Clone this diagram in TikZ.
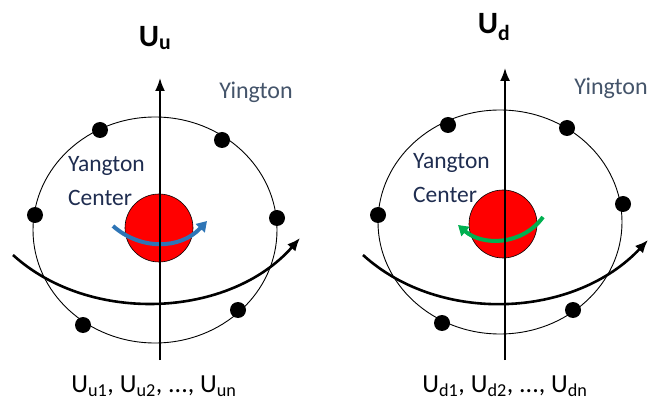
\documentclass[tikz,border=0pt]{standalone}
\usepackage{fontspec}
\setmainfont{Carlito}
\usetikzlibrary{positioning, calc, arrows.meta}
\definecolor{yinggray}{RGB}{68,84,106}
\definecolor{yangnavy}{RGB}{31,45,80}
\definecolor{spinblue}{RGB}{46,117,182}
\definecolor{spingreen}{RGB}{0,176,80}
\begin{document}
\begin{tikzpicture}[x=1pt, y=-1pt,
        orbit/.style={draw=black, line width=0.9pt},
        quark/.style={circle, fill=black, inner sep=0pt, minimum size=16pt},
        center/.style={circle, draw=black, line width=0.6pt, fill=red, inner sep=0pt, minimum size=68pt},
        axis/.style={line width=1.8pt, -{Latex[length=13pt,width=10pt]}},
        path/.style={line width=2.6pt, -{Latex[length=13pt,width=11pt]}},
        spin/.style={line width=4pt, -{Triangle[length=10pt,width=12pt]}},
        label/.style={font=\fontsize{24}{28}\selectfont, inner sep=0pt},
    ]
    \useasboundingbox (0,0) rectangle (653,403);
    % up
    \draw[orbit] (155,230) ellipse (122 and 113);
    \node[quark] (u1) at (100,130) {};
    \node[quark] (u2) at (222,140) {};
    \node[quark] (u3) at (35,215) {};
    \node[quark] (u4) at (277,218) {};
    \node[quark] (u5) at (83,325) {};
    \node[quark] (u6) at (238,310) {};
    \node[center] (UC) at (159,228) {};
    \coordinate (USa) at (113,226);
    \coordinate (USb) at (207,221);
    \draw[spin, spinblue] (USa) .. controls (140,250) and (180,250) .. (USb);
    \coordinate (UAb) at (160,360);
    \coordinate (UAt) at (160,78);
    \draw[axis] (UAb) -- (UAt);
    \coordinate (UPa) at (13,255);
    \coordinate (UPb) at (300,238);
    \draw[path] (UPa) .. controls (90,325) and (230,318) .. (UPb);
    \node[label, font=\fontsize{31}{34}\selectfont\bfseries] (UT) at (155,38) {U\textsubscript{u}};
    \node[label, text=yinggray] (UY) at (256,92) {Yington};
    \node[label, text=yangnavy, align=left, anchor=west, font=\fontsize{23.5}{34}\selectfont] (UY2) at (68,181) {Yangton\\Center};
    \node[label, font=\fontsize{26}{30}\selectfont] (UL) at (154,386) {U\textsubscript{u1}, U\textsubscript{u2}, ..., U\textsubscript{un}};
    % down
    \draw[orbit] (500,222) ellipse (122 and 112);
    \node[quark] (d1) at (448,125) {};
    \node[quark] (d2) at (567,128) {};
    \node[quark] (d3) at (378,215) {};
    \node[quark] (d4) at (623,204) {};
    \node[quark] (d5) at (442,323) {};
    \node[quark] (d6) at (573,310) {};
    \node[center] (DC) at (503,224) {};
    \coordinate (DSa) at (543,217);
    \coordinate (DSb) at (458,225);
    \draw[spin, spingreen] (DSa) .. controls (522,246) and (482,246) .. (DSb);
    \coordinate (DAb) at (505,360);
    \coordinate (DAt) at (505,68);
    \draw[axis] (DAb) -- (DAt);
    \coordinate (DPa) at (363,255);
    \coordinate (DPb) at (648,240);
    \draw[path] (DPa) .. controls (440,325) and (575,318) .. (DPb);
    \node[label, font=\fontsize{31}{34}\selectfont\bfseries] (DT) at (494,27) {U\textsubscript{d}};
    \node[label, text=yinggray] (DY) at (611,88) {Yington};
    \node[label, text=yangnavy, align=left, anchor=west, font=\fontsize{23.5}{34}\selectfont] (DY2) at (413,178) {Yangton\\Center};
    \node[label, font=\fontsize{26}{30}\selectfont] (DL) at (505,386) {U\textsubscript{d1}, U\textsubscript{d2}, ..., U\textsubscript{dn}};
\end{tikzpicture}
\end{document}
